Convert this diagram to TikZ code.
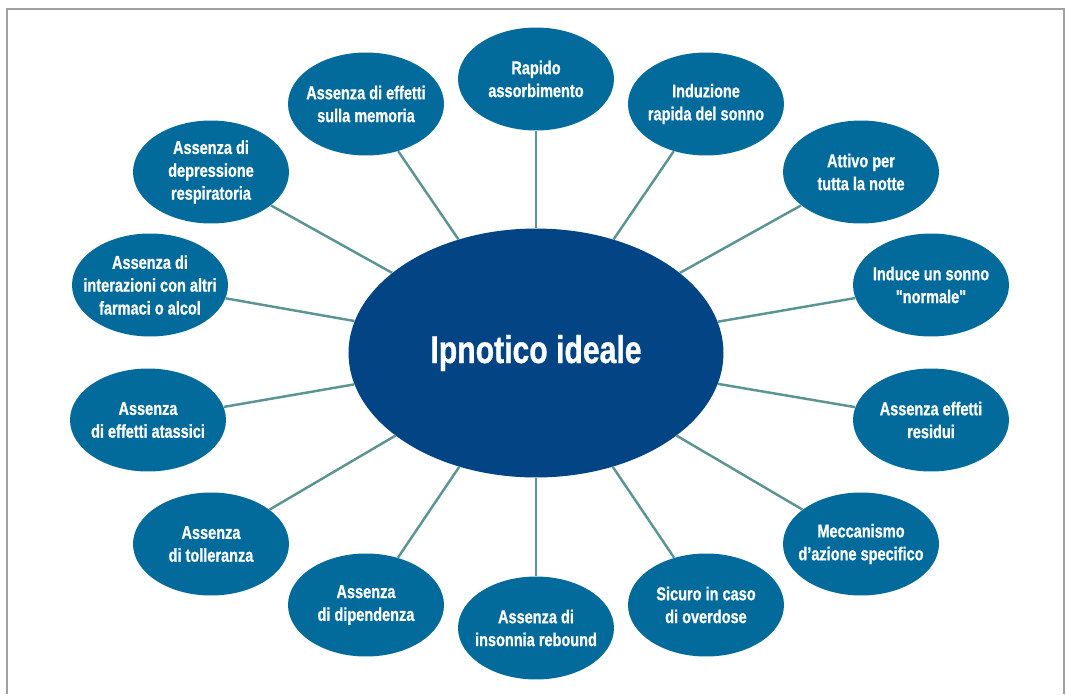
\documentclass[tikz,border=0pt]{standalone}
\usepackage{fontspec}
\newfontfamily\condfont{Liberation Sans}[FakeStretch=0.78, FakeBold=0.8]
\usetikzlibrary{shapes.geometric}
\definecolor{hubblue}{HTML}{034485}
\definecolor{satblue}{HTML}{026B9C}
\definecolor{spoke}{HTML}{5B9494}
\definecolor{framegray}{HTML}{A0A0A0}

\begin{document}
\begin{tikzpicture}[x=0.02cm, y=-0.02cm]
            \tikzstyle{every node}=[ellipse, inner sep=0pt, text=white]
            \tikzstyle{sat}=[fill=satblue, minimum width=3.12cm, minimum height=2.06cm]
            \tikzstyle{hub}=[fill=hubblue, minimum width=7.5cm, minimum height=4.98cm, font=\condfont\bfseries\fontsize{22}{25}\selectfont]
            \tikzstyle{txt}=[align=center, font=\condfont\bfseries\fontsize{10.6}{13}\selectfont]
            \tikzstyle{edge}=[spoke, line width=1.4pt]

            \useasboundingbox (0,0) rectangle (1066,694);
            \draw[framegray, line width=1.1pt] (7,694) -- (7,9) -- (1064,9) -- (1064,694);

            \node[hub] (c) at (536,353) {Ipnotico ideale};

            \node[sat, label={[txt]center:Rapido\\assorbimento}] (rap) at (536,79) {};
            \node[sat, label={[txt]center:Induzione\\rapida del sonno}] (ind) at (706,104) {};
            \node[sat, label={[txt]center:Attivo per\\tutta la notte}] (att) at (861,172) {};
            \node[sat, label={[txt]center:Induce un sonno\\"normale"}] (norm) at (931,285) {};
            \node[sat, label={[txt]center:Assenza effetti\\residui}] (res) at (931,420) {};
            \node[sat, label={[txt]center:Meccanismo\\d’azione specifico}] (mec) at (861,544) {};
            \node[sat, label={[txt]center:Sicuro in caso\\di overdose}] (sic) at (706,605) {};
            \node[sat, label={[txt]center:Assenza di\\insonnia rebound}] (reb) at (536,628) {};
            \node[sat, label={[txt]center:Assenza\\di dipendenza}] (dip) at (366,605) {};
            \node[sat, label={[txt]center:Assenza\\di tolleranza}] (tol) at (211,544) {};
            \node[sat, label={[txt]center:Assenza\\di effetti atassici}] (ata) at (148,420) {};
            \node[sat, label={[txt]center:Assenza di\\interazioni con altri\\farmaci o alcol}] (int) at (150,285) {};
            \node[sat, label={[txt]center:Assenza di\\depressione\\respiratoria}] (resp) at (211,172) {};
            \node[sat, label={[txt]center:Assenza di effetti\\sulla memoria}] (mem) at (366,104) {};

            \foreach \n in {rap,ind,att,norm,res,mec,sic,reb,dip,tol,ata,int,resp,mem}
              \draw[edge] (c) -- (\n);
          \end{tikzpicture}
\end{document}
